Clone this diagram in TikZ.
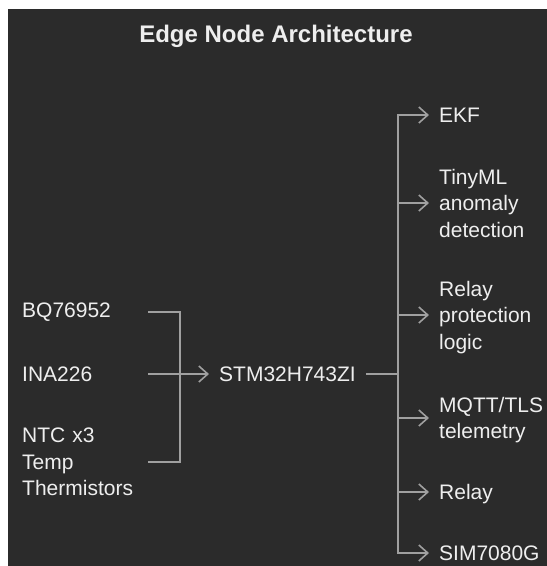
\documentclass[tikz,border=0pt]{standalone}
\usepackage{fontspec}
\setmainfont{Liberation Sans}
\usepackage{tikz}
\usetikzlibrary{positioning,arrows.meta}
\definecolor{panel}{HTML}{2B2B2B}
\definecolor{wire}{HTML}{A0A0A0}
\definecolor{label}{HTML}{EEEEEE}
\tikzstyle{part} = [text=label, font=\fontsize{21}{26.5}\selectfont, align=left, inner ysep=0pt]
\tikzstyle{source} = [part, text width=126pt, inner xsep=0pt, anchor=west]
\tikzstyle{sink} = [part, inner xsep=10pt, anchor=west, text depth=0pt]
\tikzstyle{wireline} = [draw=wire, line width=1.6pt]
\tikzstyle{arrow} = [wireline, -{Straight Barb[length=9pt,width=16pt]}]
\begin{document}
\begin{tikzpicture}[x=1pt, y=-1pt]
    \useasboundingbox (0,0) rectangle (547,566);
    \fill[panel] (8,9) rectangle (547,566);
    \node[text=label, font=\bfseries\fontsize{24}{28}\selectfont, anchor=base] (title) at (276,42) {Edge Node Architecture};
    % We start by placing the blocks
    \node[source] (bq) at (22,312) {BQ76952};
    \node[source] (ina) at (22,374) {INA226};
    \node[source] (ntc) at (22,462) {NTC x3\\Temp\\Thermistors};
    \node[sink] (stm) at (209,374) {STM32H743ZI};
    \node[sink] (ekf) at (429,115) {EKF};
    \node[sink] (tinyml) at (429,203) {TinyML\\anomaly\\detection};
    \node[sink] (protect) at (429,315) {Relay\\protection\\logic};
    \node[sink] (mqtt) at (429,418) {MQTT/TLS\\telemetry};
    \node[sink] (relay) at (429,492) {Relay};
    \node[sink] (sim) at (429,553) {SIM7080G};
    \coordinate (fork) at (180,374);
    \coordinate (bus) at (398,374);
    % inputs into the MCU
    \draw[wireline] (bq.east) -| (fork);
    \draw[wireline] (ntc.east) -| (fork);
    \draw[arrow] (ina.east) -- (stm.west);
    % MCU out to the tasks
    \draw[wireline] (stm.east) -- (bus);
    \draw[arrow] (bus) |- (ekf.west);
    \draw[arrow] (bus) |- (tinyml.west);
    \draw[arrow] (bus) |- (protect.west);
    \draw[arrow] (bus) |- (mqtt.west);
    \draw[arrow] (bus) |- (relay.west);
    \draw[arrow] (bus) |- (sim.west);
\end{tikzpicture}
\end{document}
